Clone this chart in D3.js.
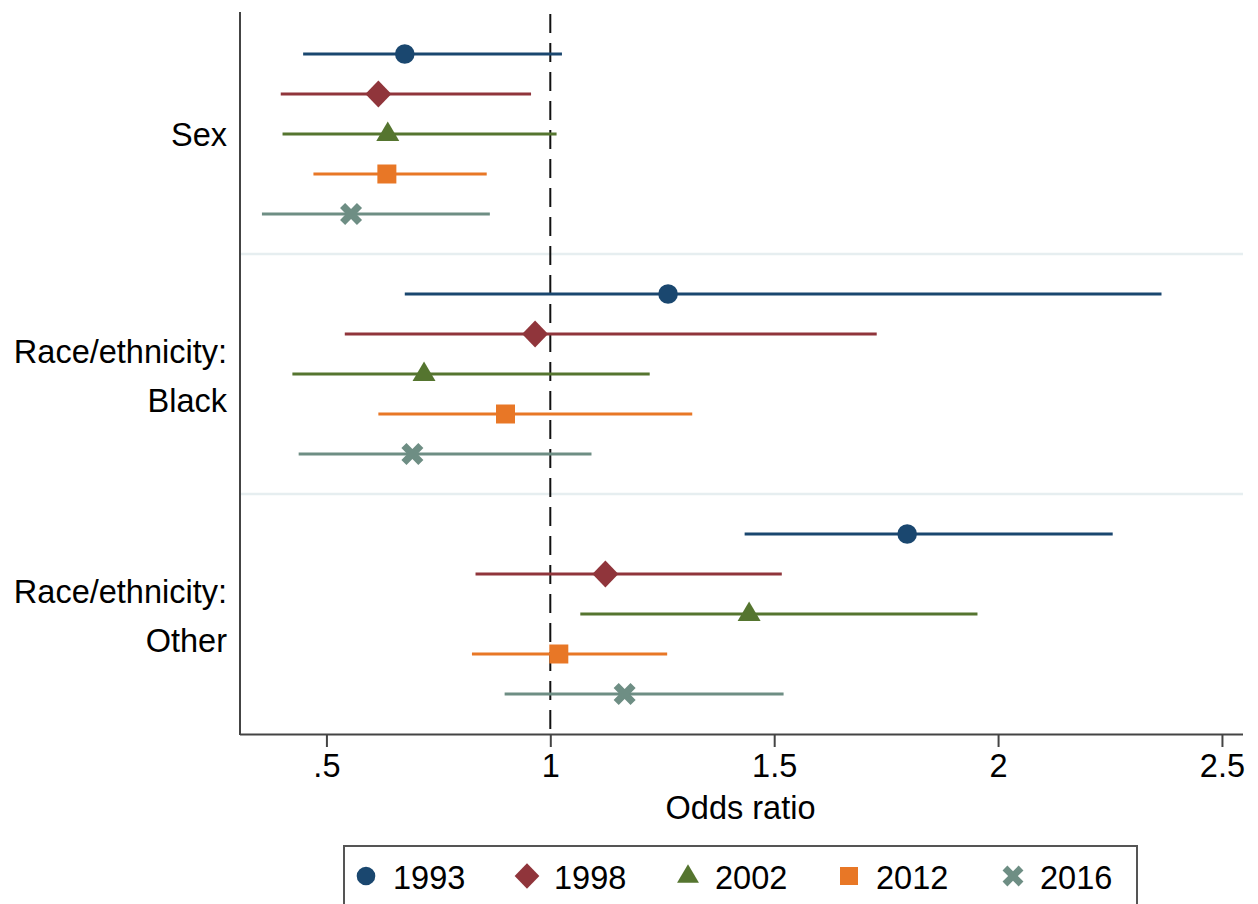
<!DOCTYPE html>
<html>
<head>
<meta charset="utf-8">
<script src="https://cdn.jsdelivr.net/npm/d3@7"></script>
<style>
  html, body { margin: 0; padding: 0; background: #fff; }
  svg { display: block; }
  text { font-family: "Liberation Sans", Arial, Helvetica, sans-serif; fill: #000; }
</style>
</head>
<body>
<svg id="chart" width="1258" height="904"></svg>
<script>
// ---- Data ----
const groups = ["Sex", "Race/ethnicity:\nBlack", "Race/ethnicity:\nOther"];
const years = ["1993", "1998", "2002", "2012", "2016"];
const colors = ["#1a476f", "#90353b", "#55752f", "#e87726", "#6e8e84"];
const shapes = ["circle", "diamond", "triangle", "square", "cross"];

// odds ratio point estimates [group][year]
const estimates = [
  [0.675, 0.616, 0.637, 0.635, 0.555],
  [1.263, 0.966, 0.718, 0.900, 0.692],
  [1.797, 1.123, 1.444, 1.019, 1.166]
];
const lower = [
  [0.448, 0.398, 0.402, 0.471, 0.356],
  [0.675, 0.541, 0.424, 0.616, 0.438],
  [1.434, 0.833, 1.067, 0.825, 0.898]
];
const upper = [
  [1.026, 0.957, 1.014, 0.858, 0.865],
  [2.365, 1.729, 1.222, 1.317, 1.092],
  [2.256, 1.517, 1.954, 1.261, 1.521]
];
const xTicks = [0.5, 1, 1.5, 2, 2.5];
const xTickLabels = [".5", "1", "1.5", "2", "2.5"];
const refValue = 1;

// ---- Layout ----
const FS = 32.5;
const svg = d3.select("#chart");
const plot = { left: 240, right: 1243, top: 12, bottom: 734 };
const x = d3.scaleLinear().domain([0.307, 2.547]).range([plot.left, plot.right]);
// slot index: group g, row r -> g*6 + r ; separators at slots 5, 11
const y = d3.scaleLinear().domain([-1.05, 17.0]).range([plot.top, plot.bottom]);

// separator lines between groups
[5, 11].forEach(s => {
  svg.append("line")
    .attr("x1", plot.left).attr("x2", plot.right)
    .attr("y1", y(s)).attr("y2", y(s))
    .attr("stroke", "#e6eef0").attr("stroke-width", 2.5);
});

// reference dashed line
svg.append("line")
  .attr("x1", x(refValue)).attr("x2", x(refValue))
  .attr("y1", plot.top + 2).attr("y2", plot.bottom)
  .attr("stroke", "#111").attr("stroke-width", 2)
  .attr("stroke-dasharray", "19,10");

// marker path generators (centered at 0,0)
function markerPath(shape, s) {
  switch (shape) {
    case "circle": {
      const p = d3.path(); p.arc(0, 0, 9.8 * s, 0, 2 * Math.PI); return p.toString();
    }
    case "diamond": {
      const w = 13 * s, h = 13.5 * s;
      return `M0,${-h}L${w},0L0,${h}L${-w},0Z`;
    }
    case "triangle": {
      const w = 11.5 * s;
      return `M0,${-12.5 * s}L${w},${7 * s}L${-w},${7 * s}Z`;
    }
    case "square": {
      const a = 9.5 * s;
      return `M${-a},${-a}H${a}V${a}H${-a}Z`;
    }
    case "cross": {
      const a = 11 * s, t = 3.6 * s;
      const k = t / Math.SQRT2 * 2;
      const pts = [
        [0, -k], [a - k, -a], [a, -a + k], [k, 0], [a, a - k], [a - k, a],
        [0, k], [-a + k, a], [-a, a - k], [-k, 0], [-a, -a + k], [-a + k, -a]
      ];
      return "M" + pts.map(p => p.join(",")).join("L") + "Z";
    }
  }
}

// error bars + markers
groups.forEach((g, gi) => {
  years.forEach((yr, yi) => {
    const cy = y(gi * 6 + yi);
    svg.append("line")
      .attr("x1", x(lower[gi][yi])).attr("x2", x(upper[gi][yi]))
      .attr("y1", cy).attr("y2", cy)
      .attr("stroke", colors[yi]).attr("stroke-width", 2.8);
    svg.append("path")
      .attr("d", markerPath(shapes[yi], 1))
      .attr("transform", `translate(${x(estimates[gi][yi])},${cy})`)
      .attr("fill", colors[yi]);
  });
  // group labels
  const lines = g.split("\n");
  const cy = y(gi * 6 + 2);
  const offsets = lines.length === 1 ? [0] : [-23, 26];
  lines.forEach((ln, li) => {
    svg.append("text")
      .attr("x", 227).attr("y", cy + offsets[li])
      .attr("dy", "0.36em")
      .attr("text-anchor", "end")
      .attr("font-size", FS)
      .text(ln);
  });
});

// axes
svg.append("line")
  .attr("x1", plot.left).attr("x2", plot.left)
  .attr("y1", plot.top).attr("y2", plot.bottom + 1)
  .attr("stroke", "#444").attr("stroke-width", 2);

const xAxis = d3.axisBottom(x).tickValues(xTicks)
  .tickFormat((d, i) => xTickLabels[i]).tickSize(13).tickSizeOuter(0).tickPadding(7);
const ax = svg.append("g").attr("transform", `translate(0,${plot.bottom})`).call(xAxis);
ax.select(".domain").attr("d", `M${plot.left},0.5H${plot.right}`).attr("stroke", "#444").attr("stroke-width", 2);
ax.selectAll(".tick line").attr("stroke", "#444").attr("stroke-width", 2);
ax.selectAll(".tick text")
  .attr("font-size", FS)
  .attr("font-family", "Liberation Sans, Arial, sans-serif")
  .attr("fill", "#000");

svg.append("text")
  .attr("x", (plot.left + plot.right) / 2 - 1).attr("y", 819)
  .attr("text-anchor", "middle").attr("font-size", FS)
  .text("Odds ratio");

// legend
const legend = svg.append("g");
legend.append("rect")
  .attr("x", 344).attr("y", 846).attr("width", 793).attr("height", 80)
  .attr("fill", "#fff").attr("stroke", "#555").attr("stroke-width", 2);
const legX = [366, 527, 688, 849, 1013];
years.forEach((yr, i) => {
  legend.append("path")
    .attr("d", markerPath(shapes[i], 0.95))
    .attr("transform", `translate(${legX[i]},876)`)
    .attr("fill", colors[i]);
  legend.append("text")
    .attr("x", legX[i] + 27).attr("y", 877).attr("dy", "0.36em")
    .attr("font-size", FS)
    .text(yr);
});
</script>
</body>
</html>
